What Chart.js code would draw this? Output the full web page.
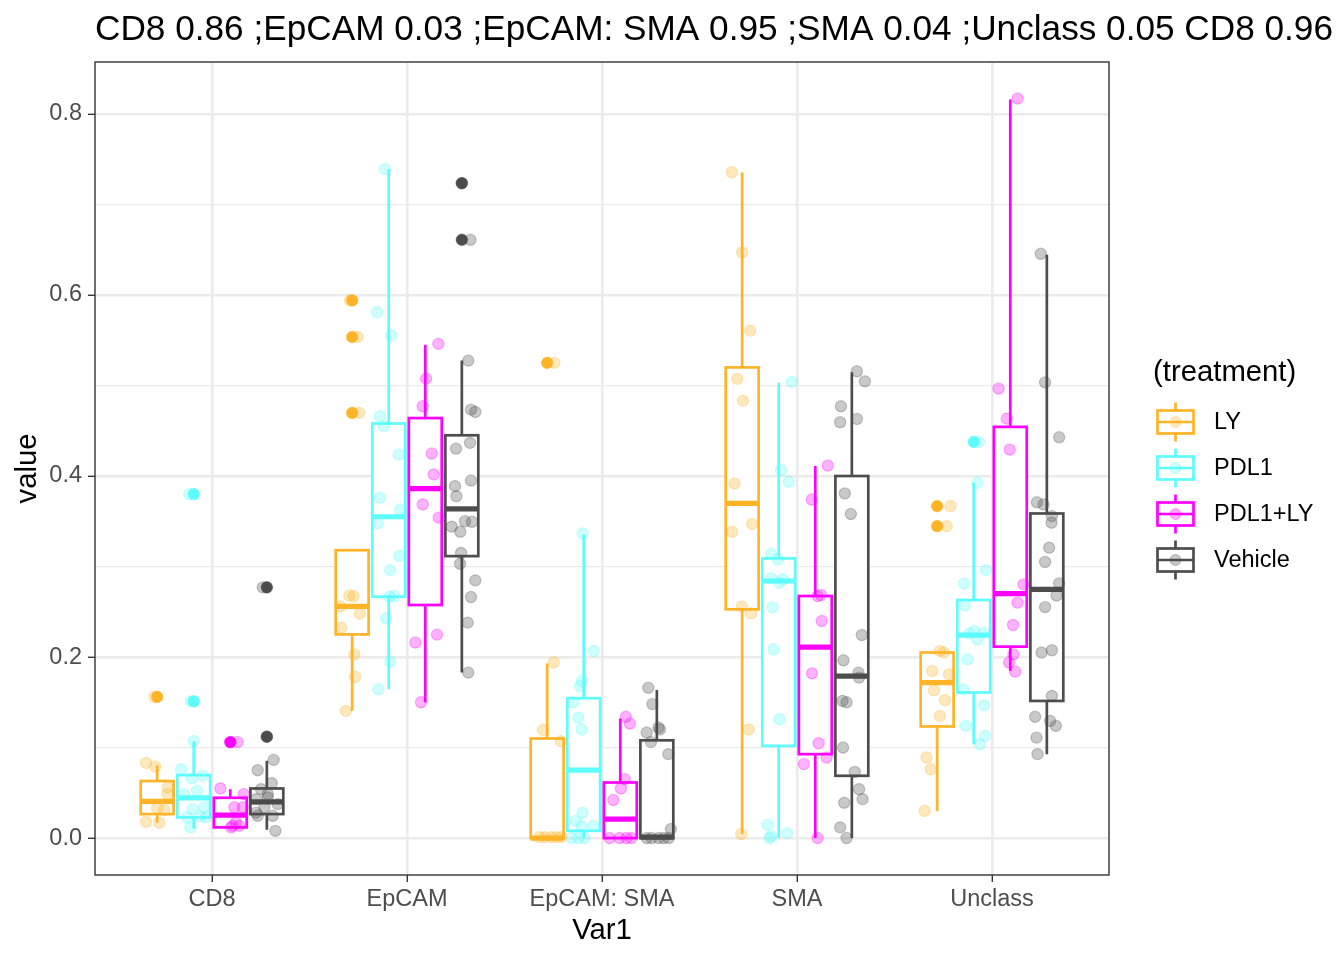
<!DOCTYPE html>
<html><head><meta charset="utf-8">
<script src="https://cdn.jsdelivr.net/npm/chart.js@4.4.1/dist/chart.umd.min.js"></script>
<style>html,body{margin:0;padding:0;background:#fff;}</style>
</head><body>
<canvas id="c" width="1344" height="960"></canvas>
<script>
const chartTitle = 'CD8 0.86 ;EpCAM 0.03 ;EpCAM: SMA 0.95 ;SMA 0.04 ;Unclass 0.05 CD8 0.96';
const categories = ['CD8', 'EpCAM', 'EpCAM: SMA', 'SMA', 'Unclass'];
const treatments = ['LY', 'PDL1', 'PDL1+LY', 'Vehicle'];
const treatmentColors = ['255,180,40', '94,252,252', '255,0,255', '77,77,77'];
const yTickValues = [0, 0.1, 0.2, 0.3, 0.4, 0.5, 0.6, 0.7, 0.8];
const yTickLabels = ['0.0', '', '0.2', '', '0.4', '', '0.6', '', '0.8'];

// box stats per category: [lower whisker, Q1, median, Q3, upper whisker]
const boxLY = [[0.017,0.0265,0.0405,0.063,0.0805],[0.1405,0.225,0.256,0.318,0.318],[0,0,0,0.110,0.193],[0.0044,0.2527,0.3697,0.520,0.7353],[0.030,0.1233,0.1718,0.205,0.206]];
const boxPDL1 = [[0.0107,0.0228,0.0445,0.0695,0.107],[0.1644,0.2667,0.355,0.458,0.739],[0,0.008,0.075,0.1545,0.3355],[0,0.1019,0.284,0.309,0.503],[0.1037,0.1608,0.2243,0.263,0.3925]];
const boxPDL1LY = [[0.0118,0.0118,0.0254,0.0445,0.054],[0.150,0.2575,0.386,0.464,0.545],[0,0,0.021,0.0614,0.132],[0,0.0927,0.211,0.2674,0.411],[0.1846,0.2115,0.270,0.4543,0.816]];
const boxVehicle = [[0.0092,0.0265,0.040,0.0548,0.0853],[0.1828,0.3115,0.3638,0.445,0.5275],[0,0,0.001,0.108,0.1637],[0,0.0688,0.179,0.400,0.5146],[0.0927,0.1515,0.2748,0.3586,0.6444]];

// outliers per category
const outLY = [[0.156],[0.594,0.5536,0.4697],[0.525],[],[0.3667,0.3446]];
const outPDL1 = [[0.38,0.151],[],[],[],[0.4377]];
const outPDL1LY = [[0.106],[],[],[],[]];
const outVehicle = [[0.112,0.277],[0.7235,0.661],[],[],[]];

// jittered observations per category: [value, horizontal jitter]
const ptsLY = [
 [[0.083,-0.057],[0.079,-0.01],[0.056,0.054],[0.0486,0.054],[0.033,0],[0.031,0.036],[0.018,-0.057],[0.017,0.011],[0.156,-0.015]],
 [[0.594,-0.011],[0.5536,0.028],[0.4697,0.036],[0.268,-0.015],[0.2674,0.008],[0.256,-0.061],[0.248,0.04],[0.2325,-0.057],[0.203,0.011],[0.178,0.014],[0.1405,-0.032]],
 [[0.525,0.037],[0.194,0.034],[0.1195,-0.021],[0.107,0.07],[0.001,-0.04],[0.001,-0.014],[0.001,0.022],[0.001,0.048],[0.001,0.073]],
 [[0.7356,-0.053],[0.647,0],[0.5606,0.041],[0.5073,-0.026],[0.4833,0.004],[0.3917,-0.039],[0.347,0.051],[0.3384,-0.051],[0.2557,-0.002],[0.2483,0.046],[0.12,0.034],[0.0044,-0.005]],
 [[0.3667,0.069],[0.3446,0.049],[0.2067,0.014],[0.205,0.035],[0.1846,-0.025],[0.181,0.061],[0.1633,-0.016],[0.1523,0.04],[0.135,0.014],[0.089,-0.054],[0.076,-0.033],[0.03,-0.064]]
];
const ptsPDL1 = [
 [[0.107,0],[0.076,-0.065],[0.066,-0.01],[0.069,0.046],[0.052,0.017],[0.0486,-0.051],[0.032,-0.005],[0.034,0.054],[0.023,-0.034],[0.024,0.034],[0.0118,-0.017],[0.023,0.063],[0.38,-0.023],[0.151,-0.014]],
 [[0.739,-0.019],[0.581,-0.06],[0.5555,0.012],[0.466,-0.045],[0.455,-0.026],[0.4237,0.051],[0.376,-0.045],[0.363,0.06],[0.3476,-0.056],[0.312,0.054],[0.296,0.008],[0.2667,0.003],[0.2674,0.029],[0.2428,-0.014],[0.195,0.008],[0.1644,-0.053]],
 [[0.3366,-0.006],[0.2067,0.052],[0.1736,-0.008],[0.168,-0.02],[0.15,-0.054],[0.133,-0.028],[0.12,-0.011],[0.028,-0.006],[0.019,-0.041],[0.0136,0.049],[0.013,-0.011],[0,-0.063],[0,-0.027],[0,0.004]],
 [[0.504,0.068],[0.4064,0.012],[0.3936,0.051],[0.314,-0.039],[0.308,-0.005],[0.287,-0.039],[0.282,0.003],[0.286,0.021],[0.255,-0.031],[0.2086,-0.026],[0.1313,0.003],[0.0147,-0.056],[0.002,-0.039],[0.0055,0.043],[0,-0.048]],
 [[0.4377,0.027],[0.3925,0.019],[0.296,0.062],[0.281,-0.05],[0.257,-0.046],[0.2288,0.002],[0.2262,-0.024],[0.2196,0.019],[0.227,0.05],[0.1975,-0.032],[0.1644,-0.053],[0.1468,0.053],[0.124,-0.041],[0.113,0.058],[0.1037,0.032]]
];
const ptsPDL1LY = [
 [[0.106,0.038],[0.0548,-0.051],[0.0486,0.069],[0.034,0.021],[0.034,0.064],[0.0136,0.012],[0.0136,0.046],[0.017,0.029],[0.0118,0.004]],
 [[0.546,0.067],[0.5076,0.004],[0.477,-0.013],[0.4248,0.033],[0.4017,0.043],[0.3686,-0.013],[0.3539,0.069],[0.2248,0.06],[0.216,-0.051],[0.15,-0.022]],
 [[0.134,0.028],[0.1265,0.049],[0.065,0.023],[0.0548,0.003],[0.042,-0.036],[0,-0.055],[0,-0.004],[0,0.032],[0,0.057]],
 [[0.4116,0.064],[0.374,-0.018],[0.2674,0.012],[0.2685,0.029],[0.2398,0.033],[0.182,-0.017],[0.1048,0.017],[0.0817,-0.059],[0.089,0.058],[0,0.012]],
 [[0.817,0.037],[0.4966,-0.06],[0.4634,-0.018],[0.4292,-0.003],[0.2803,0.068],[0.26,0.037],[0.2354,0.014],[0.203,0.016],[0.1939,-0.006],[0.184,0.025]]
];
const ptsVehicle = [
 [[0.277,-0.021],[0.112,0],[0.0864,0.035],[0.075,-0.047],[0.0607,0.025],[0.054,-0.03],[0.0486,0.005],[0.043,-0.055],[0.045,0.005],[0.0375,0.056],[0.034,-0.013],[0.028,-0.055],[0.0246,0.03],[0.0246,-0.047],[0.008,0.044]],
 [[0.7235,0],[0.661,0.044],[0.5275,0.033],[0.4734,0.047],[0.4708,0.069],[0.4303,-0.03],[0.4366,0.042],[0.3888,-0.035],[0.395,0.047],[0.3777,-0.028],[0.344,-0.052],[0.3384,-0.008],[0.35,0.016],[0.3494,0.052],[0.315,-0.004],[0.303,-0.009],[0.2847,0.069],[0.2663,0.047],[0.238,0.03],[0.1828,0.033]],
 [[0.166,-0.044],[0.148,-0.023],[0.122,0.008],[0.12,0.016],[0.1166,-0.052],[0.106,-0.03],[0.0927,0.059],[0.01,0.072],[0,-0.052],[0,-0.027],[0,0.009],[0,0.035],[0,0.061]],
 [[0.5157,0.026],[0.5046,0.067],[0.477,-0.056],[0.4594,-0.06],[0.463,0.026],[0.3807,-0.036],[0.358,-0.005],[0.2243,0.051],[0.1964,-0.043],[0.1828,0.034],[0.1773,0.037],[0.1515,-0.048],[0.15,-0.027],[0.1,-0.045],[0.073,0.015],[0.054,0.037],[0.043,0.055],[0.039,-0.039],[0.0118,-0.06],[0,-0.027]],
 [[0.6455,-0.031],[0.5035,-0.009],[0.4428,0.063],[0.371,-0.051],[0.3686,-0.017],[0.3557,0.026],[0.3484,0.024],[0.3208,0.012],[0.305,-0.009],[0.2814,0.063],[0.268,0.05],[0.2552,-0.009],[0.205,-0.027],[0.2075,0.026],[0.157,0.026],[0.134,-0.06],[0.1294,0.017],[0.124,0.046],[0.111,-0.053],[0.0927,-0.048]]
];

const boxes = [boxLY, boxPDL1, boxPDL1LY, boxVehicle];
const outliers = [outLY, outPDL1, outPDL1LY, outVehicle];
const points = [ptsLY, ptsPDL1, ptsPDL1LY, ptsVehicle];

const FONT = "'Liberation Sans', Arial, Helvetica, sans-serif";
const dodgeWidth = 0.75;
const nGroups = treatments.length;
const boxHalf = dodgeWidth / nGroups * 0.9 / 2;
function dodge(t) { return -dodgeWidth / 2 + dodgeWidth / nGroups * (t + 0.5); }
function rgba(c, a) { return 'rgba(' + c + ',' + a + ')'; }

const datasets = [];
treatments.forEach((name, t) => {
  const pts = [];
  points[t].forEach((arr, c) => arr.forEach(p => pts.push({x: c + 1 + dodge(t) + p[1], y: p[0]})));
  datasets.push({label: name, data: pts, order: 0, pointRadius: 5.6, pointHoverRadius: 5.6,
    pointBackgroundColor: rgba(treatmentColors[t], 0.3), pointBorderColor: rgba(treatmentColors[t], 0.3), pointBorderWidth: 1.2});
});
treatments.forEach((name, t) => {
  const pts = [];
  outliers[t].forEach((arr, c) => arr.forEach(v => pts.push({x: c + 1 + dodge(t), y: v})));
  datasets.push({label: name + ' outliers', data: pts, order: 5, pointRadius: 5.8, pointHoverRadius: 5.8,
    pointBackgroundColor: rgba(treatmentColors[t], 1), pointBorderColor: rgba(treatmentColors[t], 1), pointBorderWidth: 0.5});
});

const boxPlugin = {
  id: 'boxes',
  beforeDatasetsDraw(chart) {
    const ctx = chart.ctx, xs = chart.scales.x, ys = chart.scales.y;
    ctx.save();
    ctx.beginPath();
    ctx.rect(chart.chartArea.left, chart.chartArea.top, chart.chartArea.right - chart.chartArea.left, chart.chartArea.bottom - chart.chartArea.top);
    ctx.clip();
    treatments.forEach((name, t) => {
      const col = rgba(treatmentColors[t], 1);
      boxes[t].forEach((b, c) => {
        const xc = xs.getPixelForValue(c + 1 + dodge(t));
        const xl = xs.getPixelForValue(c + 1 + dodge(t) - boxHalf);
        const xr = xs.getPixelForValue(c + 1 + dodge(t) + boxHalf);
        const yLo = ys.getPixelForValue(b[0]), yQ1 = ys.getPixelForValue(b[1]), yMed = ys.getPixelForValue(b[2]),
              yQ3 = ys.getPixelForValue(b[3]), yHi = ys.getPixelForValue(b[4]);
        ctx.strokeStyle = col; ctx.lineWidth = 2.7; ctx.lineCap = 'butt'; ctx.lineJoin = 'miter';
        ctx.beginPath();
        ctx.moveTo(xc, yHi); ctx.lineTo(xc, yQ3);
        ctx.moveTo(xc, yQ1); ctx.lineTo(xc, yLo);
        ctx.stroke();
        ctx.fillStyle = '#ffffff';
        ctx.fillRect(xl, yQ3, xr - xl, yQ1 - yQ3);
        ctx.strokeRect(xl, yQ3, xr - xl, yQ1 - yQ3);
        ctx.lineWidth = 5.2;
        ctx.beginPath(); ctx.moveTo(xl, yMed); ctx.lineTo(xr, yMed); ctx.stroke();
      });
    });
    ctx.restore();
  },
  afterDraw(chart) {
    const ctx = chart.ctx, a = chart.chartArea;
    ctx.save();
    ctx.strokeStyle = '#333333'; ctx.lineWidth = 1.4;
    ctx.strokeRect(a.left, a.top, a.right - a.left, a.bottom - a.top);
    // title
    ctx.fillStyle = '#000000';
    ctx.font = '35.2px ' + FONT;
    ctx.textAlign = 'left'; ctx.textBaseline = 'alphabetic';
    ctx.fillText(chartTitle, a.left, 40);
    // axis titles
    ctx.font = '29.3px ' + FONT;
    ctx.textAlign = 'center'; ctx.textBaseline = 'middle';
    ctx.fillText('Var1', (a.left + a.right) / 2, 931);
    ctx.save();
    ctx.translate(28, (a.top + a.bottom) / 2);
    ctx.rotate(-Math.PI / 2);
    ctx.fillText('value', 0, 0);
    ctx.restore();
    // legend
    ctx.textAlign = 'left';
    ctx.fillText('(treatment)', 1153, 373);
    ctx.font = '23.5px ' + FONT;
    treatments.forEach((name, t) => {
      const cy = 422 + 46 * t;
      const col = rgba(treatmentColors[t], 1);
      const xl = 1157.5, xr = 1193.5, xc = (xl + xr) / 2;
      ctx.strokeStyle = col; ctx.lineWidth = 2.7;
      ctx.beginPath();
      ctx.moveTo(xc, cy - 19.5); ctx.lineTo(xc, cy - 11.5);
      ctx.moveTo(xc, cy + 11.5); ctx.lineTo(xc, cy + 19.5);
      ctx.stroke();
      ctx.strokeRect(xl, cy - 11.5, xr - xl, 23);
      ctx.beginPath(); ctx.moveTo(xl, cy); ctx.lineTo(xr, cy); ctx.stroke();
      ctx.fillStyle = rgba(treatmentColors[t], 0.3);
      ctx.strokeStyle = rgba(treatmentColors[t], 0.3); ctx.lineWidth = 1.2;
      ctx.beginPath(); ctx.arc(xc, cy, 5.4, 0, Math.PI * 2); ctx.fill(); ctx.stroke();
      ctx.fillStyle = '#000000';
      ctx.fillText(name, 1214, cy + 1);
    });
    ctx.restore();
  }
};

Chart.defaults.font.family = FONT;
new Chart(document.getElementById('c'), {
  type: 'scatter',
  data: {datasets},
  options: {
    responsive: false, animation: false, events: [],
    layout: {padding: {left: 0, top: 62, right: 235, bottom: 0}},
    plugins: {legend: {display: false}, tooltip: {enabled: false}, title: {display: false}},
    scales: {
      x: {
        type: 'linear', min: 0.4, max: 5.6, offset: false,
        afterBuildTicks: s => { s.ticks = categories.map((_, i) => ({value: i + 1})); },
        afterFit: s => { s.height = 85; },
        ticks: {callback: v => categories[Math.round(v) - 1], font: {size: 23.5}, color: '#4D4D4D', padding: 3, maxRotation: 0, autoSkip: false},
        grid: {color: '#EBEBEB', lineWidth: 2.6, tickLength: 7, tickColor: '#333333', tickWidth: 1.4},
        border: {display: false}
      },
      y: {
        type: 'linear', min: -0.0408, max: 0.8574,
        afterBuildTicks: s => { s.ticks = yTickValues.map(v => ({value: v})); },
        afterFit: s => { s.width = 95; },
        ticks: {callback: (v, i) => yTickLabels[i], font: {size: 23.5}, color: '#4D4D4D', padding: 6, autoSkip: false},
        grid: {
          color: '#EBEBEB',
          lineWidth: c => (c.index % 2 === 0 ? 2.6 : 1.3),
          tickLength: 7,
          tickColor: c => (c.index % 2 === 0 ? '#333333' : 'rgba(0,0,0,0)'),
          tickWidth: 1.4
        },
        border: {display: false}
      }
    }
  },
  plugins: [boxPlugin]
});
</script>
</body></html>
